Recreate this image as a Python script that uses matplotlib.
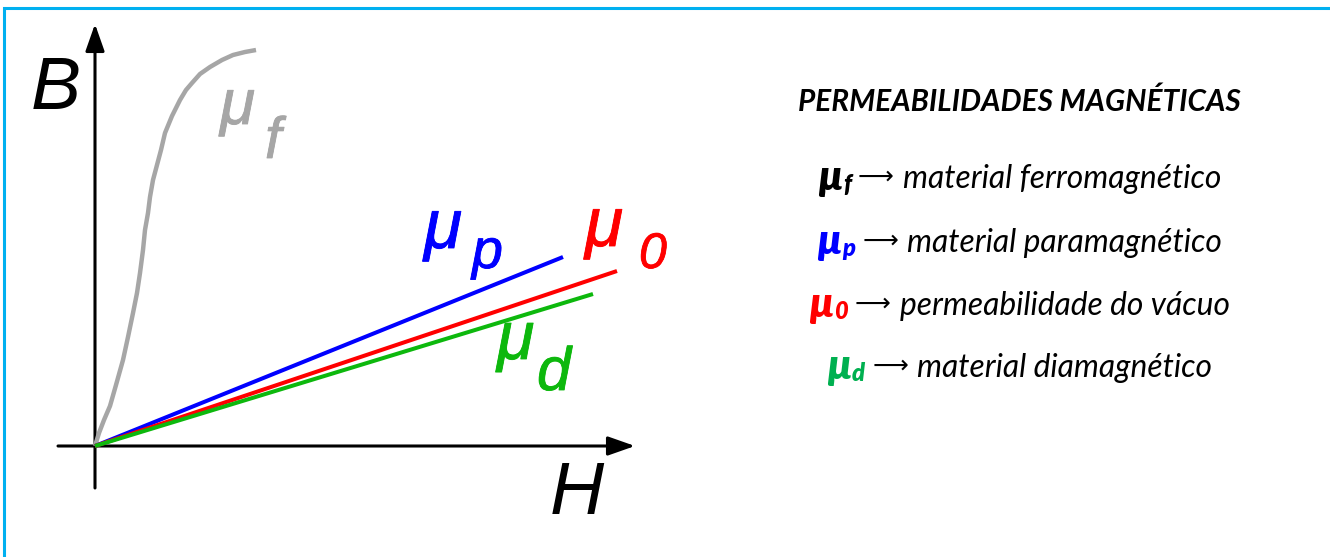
import matplotlib
matplotlib.use("Agg")
import matplotlib.pyplot as plt
from matplotlib.lines import Line2D
import matplotlib.patheffects as pe

# B-H curves (arbitrary units)
h_ferro = [0, 0.04, 0.09, 0.15, 0.21, 0.28, 0.33, 0.38, 0.42, 0.45, 0.48, 0.50, 0.53, 0.55,
           0.58, 0.62, 0.66, 0.70, 0.77, 0.85, 0.91, 0.97, 1.05, 1.15, 1.27, 1.38, 1.50, 1.61]
b_ferro = [0, 0.13, 0.26, 0.40, 0.61, 0.86, 1.09, 1.33, 1.53, 1.73, 1.96, 2.16, 2.33, 2.49,
           2.66, 2.81, 2.96, 3.13, 3.30, 3.46, 3.56, 3.63, 3.72, 3.79, 3.86, 3.91, 3.94, 3.96]
h_para = [0, 4.68]
b_para = [0, 1.89]
h_vac = [0, 5.22]
b_vac = [0, 1.75]
h_dia = [0, 4.98]
b_dia = [0, 1.52]

title = "PERMEABILIDADES MAGNÉTICAS"
legend_subs = ["f", "p", "0", "d"]
legend_texts = ["material ferromagnético", "material paramagnético",
                "permeabilidade do vácuo", "material diamagnético"]

W, H = 1330, 557
fig = plt.figure(figsize=(W / 100, H / 100), dpi=100)
fig.patch.set_facecolor("white")

def px(x, y):
    return x / W, 1 - y / H

# light blue frame (top and left only)
fig.add_artist(Line2D([4 / W, 4 / W, 1], [0, 1 - 7.5 / H, 1 - 7.5 / H],
                      color="#00B0F0", lw=2.2, solid_joinstyle="miter"))

# diagram: 1 unit = 100 px, origin at (95, 446)
ax = fig.add_axes([40 / W, 1 - 500 / H, 620 / W, 490 / H])
ax.set_xlim(-0.55, 5.65)
ax.set_ylim(-0.54, 4.36)
ax.axis("off")

arrow = dict(arrowstyle="-|>,head_length=1.65,head_width=0.58", color="black",
             lw=2.2, shrinkA=0, shrinkB=0, mutation_scale=10)
ax.annotate("", xy=(5.40, 0), xytext=(-0.37, 0), arrowprops=arrow)
ax.annotate("", xy=(0, 4.22), xytext=(0, -0.42), arrowprops=arrow)

gray, blue, red, green = "#A6A6A6", "#0000FF", "#FF0000", "#0DB80D"
ax.plot(h_ferro, b_ferro, color=gray, lw=3.2, solid_capstyle="butt",
        solid_joinstyle="round", zorder=3)
ax.plot(h_para, b_para, color=blue, lw=2.9, solid_capstyle="butt", zorder=3)
ax.plot(h_vac, b_vac, color=red, lw=2.9, solid_capstyle="butt", zorder=3)
ax.plot(h_dia, b_dia, color=green, lw=2.9, solid_capstyle="butt", zorder=3)

lab = dict(family="Liberation Sans", style="italic", va="baseline", ha="left")
ax.text(-0.64, 3.37, "B", fontsize=54, color="black", **lab)
ax.text(4.55, -0.68, "H", fontsize=54, color="black", **lab)

def mu_label(xm, ym, xs, ys, sub, color, s1, s2):
    fx = [pe.withStroke(linewidth=0.6, foreground=color)]
    ax.text(xm, ym, "μ", fontsize=s1, color=color, path_effects=fx, **lab)
    ax.text(xs, ys, sub, fontsize=s2, color=color, path_effects=fx, **lab)

mu_label(1.25, 3.22, 1.70, 2.88, "f", gray, 46, 42)
mu_label(3.29, 1.98, 3.77, 1.78, "p", blue, 50, 40)
mu_label(4.90, 2.00, 5.44, 1.78, "0", red, 50, 36)
mu_label(4.02, 0.87, 4.42, 0.56, "d", green, 49, 44)

# right-hand legend
fam = ["Lato", "DejaVu Sans"]
fig.text(*px(1019, 111), title, fontsize=21.4, fontweight="bold", fontstyle="italic",
         family=fam, ha="center", va="baseline")

renderer = fig.canvas.get_renderer()
leg_colors = ["black", blue, red, "#00B050"]
baselines = [188, 252, 315, 377]
for sub, txt, col, yb in zip(legend_subs, legend_texts, leg_colors, baselines):
    pieces = [
        ("µ", dict(fontsize=30, fontweight="heavy", fontstyle="italic", color=col, family=fam), 2, 0),
        (sub, dict(fontsize=17, fontweight="heavy", fontstyle="italic", color=col, family=fam), 4, 0),
        ("⟶", dict(fontsize=18, color="black", family=["DejaVu Sans"]), -4, 7),
        (txt, dict(fontsize=22.9, fontstyle="italic", color="black", family=fam), 0, 9),
    ]
    artists, widths = [], []
    for s, kw, dy, gap in pieces:
        t = fig.text(0, 0, s, ha="left", va="baseline", **kw)
        widths.append(t.get_window_extent(renderer).width)
        artists.append((t, dy, gap))
    total = sum(widths) + sum(g for _, _, g in artists)
    x = 1019 - total / 2
    for (t, dy, gap), w in zip(artists, widths):
        x += gap
        t.set_position(px(x, yb + dy))
        x += w

fig.savefig("out.png", dpi=100)
